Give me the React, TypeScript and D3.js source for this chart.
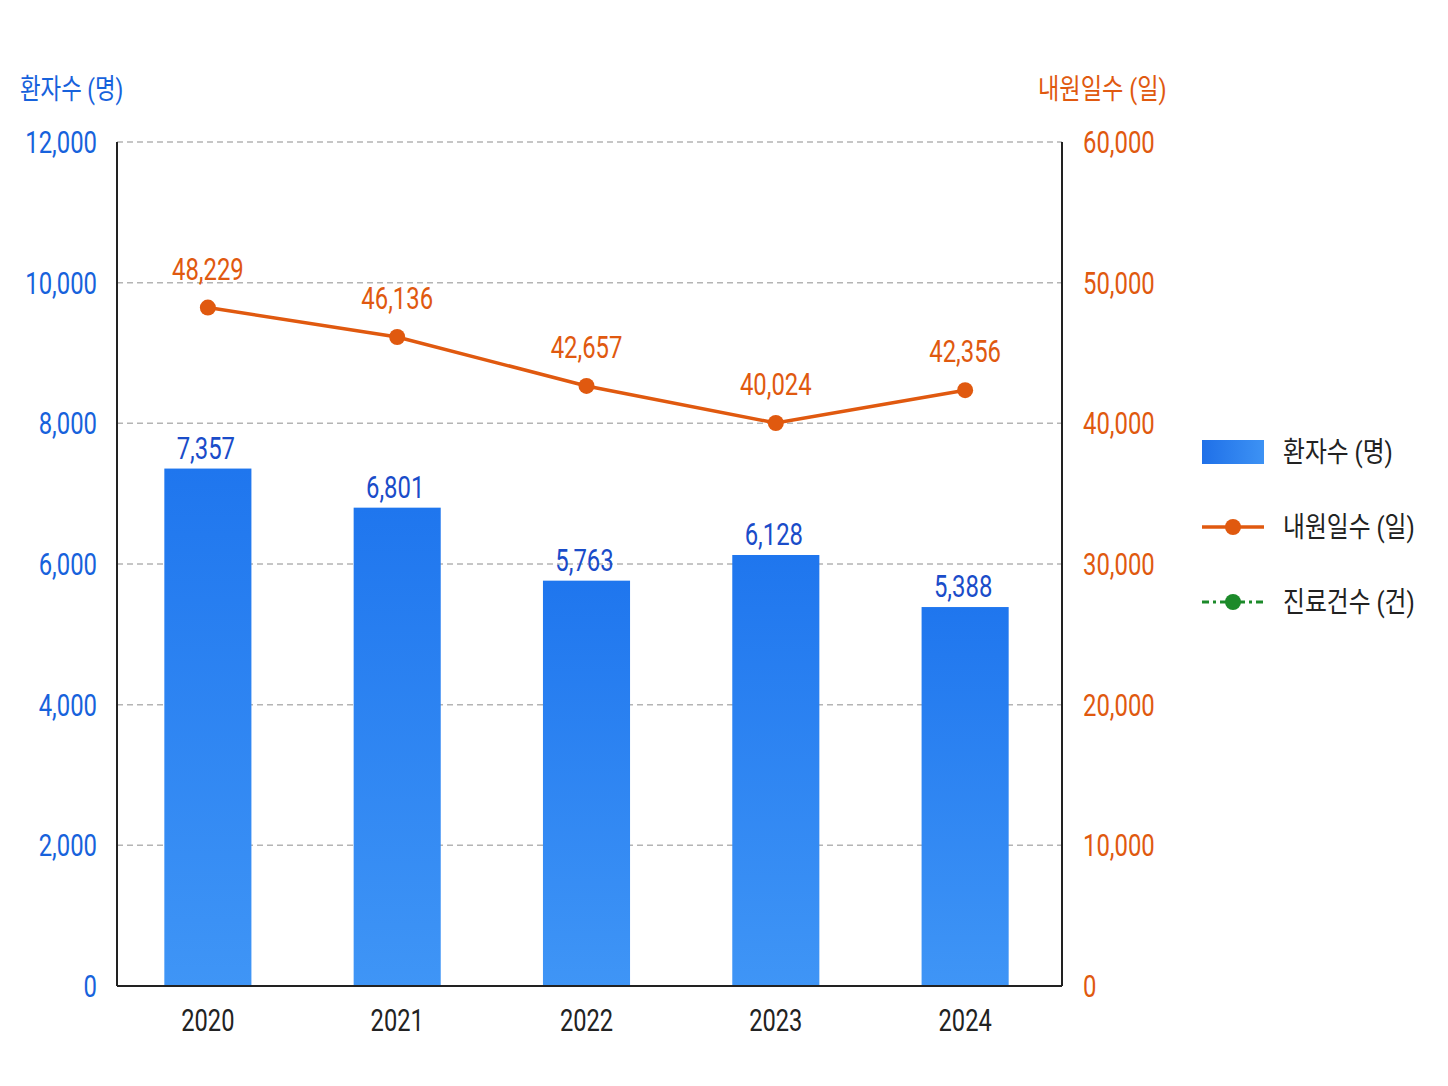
import React from "react";
import * as d3 from "d3";

const years = ["2020", "2021", "2022", "2023", "2024"];
const patients = [7357, 6801, 5763, 6128, 5388];
const visitDays = [48229, 46136, 42657, 40024, 42356];
const leftTicks = [0, 2000, 4000, 6000, 8000, 10000, 12000];
const rightTicks = [0, 10000, 20000, 30000, 40000, 50000, 60000];
const legendItems = ["환자수 (명)", "내원일수 (일)", "진료건수 (건)"];
const leftTitle = "환자수 (명)";
const rightTitle = "내원일수 (일)";

const W = 1448;
const H = 1086;
const left = 117;
const right = 1062;
const top = 142;
const bottom = 986;

const BLUE = "#1762dc";
const BLUE_LABEL = "#1a4cc9";
const ORANGE = "#e0590f";
const GREEN = "#1c8a2a";
const FONT = "Roboto, 'Noto Sans CJK KR', sans-serif";

const fmt = d3.format(",");

function T({ x, y, sx = 0.77, size = 31, anchor = "middle", fill = "#222", children }: any) {
  return (
    <text
      transform={`translate(${x},${y}) scale(${sx},1)`}
      textAnchor={anchor}
      fontSize={size}
      fill={fill}
      fontFamily={FONT}
    >
      {children}
    </text>
  );
}

export default function App() {
  const x = d3.scaleBand<string>().domain(years).range([left, right - 6]).paddingInner(0.54).paddingOuter(0.25);
  const yL = d3.scaleLinear().domain([0, 12000]).range([bottom, top]);
  const yR = d3.scaleLinear().domain([0, 60000]).range([bottom, top]);
  const cx = (y: string) => (x(y) as number) + x.bandwidth() / 2;

  const line = d3
    .line<number>()
    .x((_, i) => cx(years[i]))
    .y((d) => yR(d));

  const legendY = [452, 527, 602];

  return (
    <svg width={W} height={H} style={{ position: "absolute", left: 0, top: 0, background: "#fff" }}>
      <defs>
        <linearGradient id="barGrad" x1="0" y1="0" x2="0" y2="1">
          <stop offset="0%" stopColor="#1f76ee" />
          <stop offset="100%" stopColor="#3f95f6" />
        </linearGradient>
        <linearGradient id="legGrad" x1="0" y1="0" x2="1" y2="0">
          <stop offset="0%" stopColor="#1f70e8" />
          <stop offset="100%" stopColor="#3d92f4" />
        </linearGradient>
      </defs>

      {/* grid */}
      {leftTicks.filter((t) => t > 0).map((t) => (
        <line key={t} x1={left} x2={right} y1={yL(t)} y2={yL(t)} stroke="#b4b4b4" strokeWidth={1.5} strokeDasharray="6,4" />
      ))}

      {/* bars */}
      {years.map((yr, i) => (
        <rect key={yr} x={x(yr)} y={yL(patients[i])} width={x.bandwidth()} height={bottom - yL(patients[i])} fill="url(#barGrad)" />
      ))}

      {/* axes */}
      <line x1={left} x2={left} y1={top} y2={bottom} stroke="#222" strokeWidth={2} />
      <line x1={right} x2={right} y1={top} y2={bottom} stroke="#222" strokeWidth={2} />
      <line x1={left} x2={right} y1={bottom} y2={bottom} stroke="#222" strokeWidth={2} />

      {/* left ticks */}
      {leftTicks.map((t) => (
        <T key={t} x={97} y={yL(t) + 11} anchor="end" fill={BLUE}>{fmt(t)}</T>
      ))}
      {/* right ticks */}
      {rightTicks.map((t) => (
        <T key={t} x={1083} y={yR(t) + 11} anchor="start" fill={ORANGE}>{fmt(t)}</T>
      ))}

      {/* axis titles */}
      <T x={20} y={99} anchor="start" size={28} sx={0.8} fill={BLUE}>{leftTitle}</T>
      <T x={1038} y={99} anchor="start" size={28} sx={0.83} fill={ORANGE}>{rightTitle}</T>

      {/* year labels */}
      {years.map((yr) => (
        <T key={yr} x={cx(yr)} y={1031} size={32} sx={0.74} fill="#222">{yr}</T>
      ))}

      {/* bar value labels */}
      {years.map((yr, i) => (
        <T key={yr} x={cx(yr) - 2} y={yL(patients[i]) - 10} fill={BLUE_LABEL}>{fmt(patients[i])}</T>
      ))}

      {/* line */}
      <path d={line(visitDays) as string} fill="none" stroke={ORANGE} strokeWidth={3.5} />
      {visitDays.map((v, i) => (
        <circle key={i} cx={cx(years[i])} cy={yR(v)} r={8} fill={ORANGE} />
      ))}
      {visitDays.map((v, i) => (
        <T key={i} x={cx(years[i])} y={yR(v) - 28} fill={ORANGE}>{fmt(v)}</T>
      ))}

      {/* legend */}
      <rect x={1202} y={440} width={62} height={24} fill="url(#legGrad)" />
      <line x1={1202} x2={1264} y1={legendY[1]} y2={legendY[1]} stroke={ORANGE} strokeWidth={3.5} />
      <circle cx={1233} cy={legendY[1]} r={8} fill={ORANGE} />
      <line x1={1202} x2={1264} y1={legendY[2]} y2={legendY[2]} stroke={GREEN} strokeWidth={3} strokeDasharray="7,4,3,4" />
      <circle cx={1233} cy={legendY[2]} r={8} fill={GREEN} />
      {legendItems.map((s, i) => (
        <T key={s} x={1283} y={legendY[i] + 10} anchor="start" size={28} sx={0.85} fill="#222">{s}</T>
      ))}
    </svg>
  );
}
